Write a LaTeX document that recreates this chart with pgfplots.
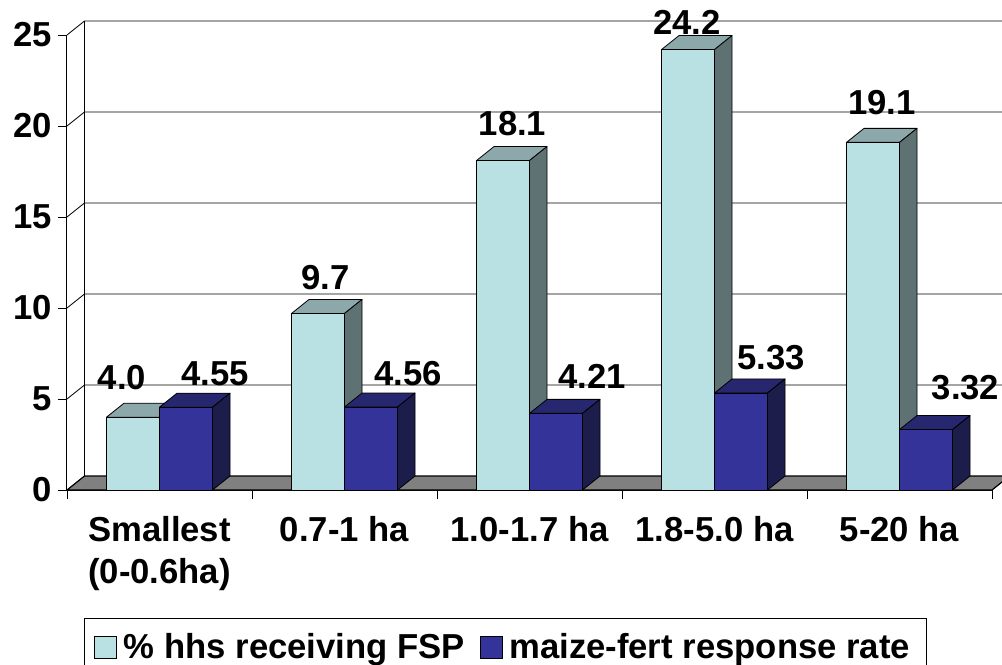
\documentclass[border=0pt]{standalone}
\usepackage{pgfplots}
\usepackage{pgfplotstable}
\pgfplotsset{compat=1.18}
\usepackage{fontspec}
\setmainfont{Liberation Sans}
\definecolor{lfront}{HTML}{B9E1E3}
\definecolor{ltop}{HTML}{8DA8AA}
\definecolor{lside}{HTML}{5E7273}
\definecolor{dfront}{HTML}{333399}
\definecolor{dtop}{HTML}{27276F}
\definecolor{dside}{HTML}{1D1D4C}
\definecolor{floorc}{HTML}{808080}

% x = category, y = value, dx = label centre offset from category centre (px), gap = label baseline above bar top (px)
\pgfplotstableread{
x y dx gap
0 4.0 -37.5 28
1 9.7 -19 23.5
2 18.1 -17 24.6
3 24.2 -27.5 14.6
4 19.1 -17.5 27.4
}\fsp
\pgfplotstableread{
x y dx gap
0 4.55 55.5 22
1 4.56 63.5 22
2 4.21 62.5 25
3 5.33 56.5 23
4 3.32 66 30
}\mfr

\newcommand\bigbf{\fontsize{26}{31.5}\selectfont\bfseries}

\pgfplotsset{
  bar3d/.style n args={6}{% #1 left, #2 right (pt, from category centre), #3 top colour, #4 side colour, #5 label precision, #6 front colour
    only marks, scatter, mark=*, mark size=0pt, forget plot,
    mark options={draw=none,fill=none},
    visualization depends on={rawy \as \yv},
    visualization depends on={\thisrow{dx} \as \ldx},
    visualization depends on={\thisrow{gap} \as \lgap},
    scatter/@pre marker code/.code={%
      \pgfkeys{/pgf/fpu=false}%
      \pgfmathsetmacro\h{\yv*13.65}%
      \filldraw[fill=#6, draw=black, line width=0.6pt, line join=round]
        (#1pt,0pt) rectangle (#2pt,-\h pt);
      \filldraw[fill=#3, draw=black, line width=0.6pt, line join=round]
        (#1pt,0pt) -- (#2pt,0pt) -- (#2pt+13.125pt,10.5pt) -- (#1pt+13.125pt,10.5pt) -- cycle;
      \filldraw[fill=#4, draw=black, line width=0.6pt, line join=round]
        (#2pt,0pt) -- (#2pt+13.125pt,10.5pt) -- (#2pt+13.125pt,10.5pt-\h pt) -- (#2pt,-\h pt) -- cycle;
      \node[anchor=base, inner sep=0pt, font=\bigbf, text=black] at (\ldx*0.75pt, \lgap*0.75pt)
        {\pgfmathprintnumber[fixed,fixed zerofill,precision=#5]{\yv}};
    },
    scatter/@post marker code/.code={},
  },
  cube legend/.style={legend image code/.code={\draw[##1, draw=black, line width=0.6pt] (0pt,-8.25pt) rectangle (16.5pt,8.25pt);}},
}

\begin{document}
\begin{tikzpicture}
\useasboundingbox (0,0) rectangle (751.5pt,498pt);
\clip (0,0) rectangle (751.5pt,498pt);
\begin{axis}[
  at={(50.25pt,130.5pt)}, anchor=south west,
  scale only axis, width=693.75pt, height=341.25pt,
  xmin=-0.5, xmax=4.5, ymin=0, ymax=25,
  clip=false,
  axis x line*=bottom, axis y line*=left,
  axis line style={black, line width=0.75pt, -},
  /pgf/number format/assume math mode=true,
  xtick={-0.5,0.5,...,4.5},
  xticklabels={},
  extra x ticks={0,1,2,3,4},
  extra x tick labels={{Smallest\\(0-0.6ha)},{0.7-1 ha},{1.0-1.7 ha},{1.8-5.0 ha},{5-20 ha}},
  extra x tick style={major tick length=0pt},
  ytick={0,5,...,25},
  tick align=outside,
  major tick length=6.75pt,
  tick style={black, line width=0.6pt},
  xtick pos=bottom, ytick pos=left,
  xticklabel style={font=\bigbf, align=center, anchor=north, inner sep=0pt, yshift=-19.5pt},
  yticklabel style={font=\bigbf, anchor=east, inner sep=0pt, xshift=-4.5pt},
  legend columns=2,
  legend style={at={(0.0184,-0.2813)}, anchor=north west, draw=black, line width=0.6pt,
    font=\bigbf, inner xsep=7.5pt, inner ysep=9.25pt,
    nodes={inner xsep=5pt, inner ysep=2pt},
    /tikz/every even column/.append style={column sep=6.2pt}},
]
% floor
\addplot[fill=floorc, draw=black, line width=0.9pt, forget plot] coordinates {(-0.5,0) (4.5,0) (4.5946,0.7692) (-0.4054,0.7692)} -- cycle;
% back wall and side-wall gridlines
\addplot[black, line width=0.6pt, forget plot] coordinates {(-0.4054,0.7692) (-0.4054,25.7692)};
\addplot[black, line width=0.6pt, forget plot] coordinates {(-0.5,5) (-0.4054,5.7692) (4.6,5.7692)};
\addplot[black, line width=0.6pt, forget plot] coordinates {(-0.5,10) (-0.4054,10.7692) (4.6,10.7692)};
\addplot[black, line width=0.6pt, forget plot] coordinates {(-0.5,15) (-0.4054,15.7692) (4.6,15.7692)};
\addplot[black, line width=0.6pt, forget plot] coordinates {(-0.5,20) (-0.4054,20.7692) (4.6,20.7692)};
\addplot[black, line width=0.6pt, forget plot] coordinates {(-0.5,25) (-0.4054,25.7692) (4.6,25.7692)};
% series 1
\addplot[ybar, bar width=39.75pt, bar shift=-19.875pt, fill=lfront, draw=black, line width=0.6pt, cube legend] table[x=x,y=y] {\fsp};
\addlegendentry{\% hhs receiving FSP}
% series 2
\addplot[ybar, bar width=39.75pt, bar shift=19.875pt, fill=dfront, draw=black, line width=0.6pt, cube legend] table[x=x,y=y] {\mfr};
\addlegendentry{maize-fert response rate}
% 3-D faces (front, top, side) and value labels, drawn series by series
\addplot[bar3d={-39.75}{0}{ltop}{lside}{1}{lfront}] table[x=x,y=y] {\fsp};
\addplot[bar3d={0}{39.75}{dtop}{dside}{2}{dfront}] table[x=x,y=y] {\mfr};
\end{axis}
\end{tikzpicture}
\end{document}
